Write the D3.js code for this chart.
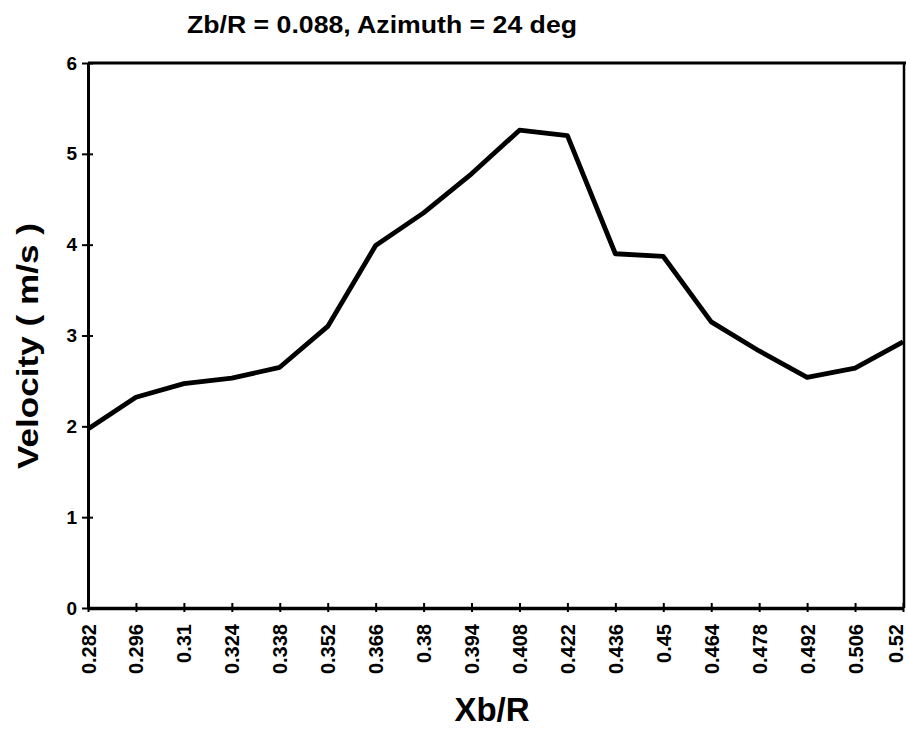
<!DOCTYPE html>
<html>
<head>
<meta charset="utf-8">
<script src="https://cdn.jsdelivr.net/npm/d3@7"></script>
<style>
  html, body { margin: 0; padding: 0; background: #fff; }
  svg { display: block; }
  text { font-family: "Liberation Sans", Arial, Helvetica, sans-serif; fill: #000; }
</style>
</head>
<body>
<svg id="chart" width="907" height="730"></svg>
<script>
// ---- data ----
const categories = ["0.282","0.296","0.31","0.324","0.338","0.352","0.366","0.38","0.394","0.408","0.422","0.436","0.45","0.464","0.478","0.492","0.506","0.52"];
const velocity = [1.97, 2.32, 2.47, 2.53, 2.65, 3.10, 3.99, 4.35, 4.78, 5.26, 5.20, 3.90, 3.87, 3.15, 2.83, 2.54, 2.64, 2.93];
const yTicks = [0, 1, 2, 3, 4, 5, 6];
const titleText = "Zb/R = 0.088, Azimuth = 24 deg";
const xTitle = "Xb/R";
const yTitle = "Velocity ( m/s )";

(function () {
  // ---- layout ----
  const mLeft = 88, mRight = 903, mTop = 63, mBottom = 608;
  const svg = d3.select("#chart");

  const x = d3.scalePoint().domain(categories).range([mLeft, mRight]);
  const y = d3.scaleLinear().domain([0, 6]).range([mBottom, mTop]);

  // frame (top + right)
  svg.append("line").attr("x1", mLeft).attr("x2", mRight + 3).attr("y1", mTop).attr("y2", mTop)
    .attr("stroke", "#000").attr("stroke-width", 3);
  svg.append("line").attr("x1", mRight + 1).attr("x2", mRight + 1).attr("y1", mTop).attr("y2", mBottom)
    .attr("stroke", "#000").attr("stroke-width", 2.5);

  // y axis
  const yAxis = d3.axisLeft(y).tickValues(yTicks).tickFormat(d3.format("d")).tickSizeInner(6).tickSizeOuter(0).tickPadding(5);
  const gy = svg.append("g").attr("transform", `translate(${mLeft},0)`).call(yAxis);
  gy.select(".domain").attr("stroke", "#000").attr("stroke-width", 3);
  gy.selectAll(".tick line").attr("stroke", "#000").attr("stroke-width", 2).attr("x2", 5).attr("x1", -6);
  gy.selectAll(".tick text").style("font-size", "19px").style("font-weight", "bold").style("font-family", '"Liberation Sans", Arial, sans-serif');

  // x axis
  const xAxis = d3.axisBottom(x).tickSizeInner(4).tickSizeOuter(0).tickPadding(10);
  const gx = svg.append("g").attr("transform", `translate(0,${mBottom})`).call(xAxis);
  gx.select(".domain").attr("stroke", "#000").attr("stroke-width", 3.5);
  gx.selectAll(".tick line").attr("stroke", "#000").attr("stroke-width", 2).attr("y1", -5).attr("y2", 4);
  gx.selectAll(".tick text")
    .style("font-size", "20px").style("font-weight", "bold").style("font-family", '"Liberation Sans", Arial, sans-serif')
    .attr("transform", "rotate(-90)")
    .attr("text-anchor", "end")
    .attr("x", -16).attr("y", (d, i) => i === categories.length - 1 ? -8 : 0).attr("dy", "0.35em");

  // data line
  const line = d3.line().x((d, i) => x(categories[i])).y(d => y(d));
  svg.append("path").datum(velocity)
    .attr("d", line)
    .attr("fill", "none").attr("stroke", "#000").attr("stroke-width", 4.8)
    .attr("stroke-linejoin", "round");

  // title
  svg.append("text").attr("x", 382).attr("y", 33).attr("text-anchor", "middle")
    .attr("textLength", 390).attr("lengthAdjust", "spacingAndGlyphs")
    .style("font-size", "24px").style("font-weight", "bold").text(titleText);

  // axis titles
  svg.append("text").attr("x", 492).attr("y", 721).attr("text-anchor", "middle")
    .style("font-size", "33px").style("font-weight", "bold").text(xTitle);
  svg.append("text").attr("transform", "translate(38,346) rotate(-90)").attr("text-anchor", "middle")
    .attr("textLength", 246).attr("lengthAdjust", "spacingAndGlyphs")
    .style("font-size", "30px").style("font-weight", "bold").text(yTitle);
})();
</script>
</body>
</html>
